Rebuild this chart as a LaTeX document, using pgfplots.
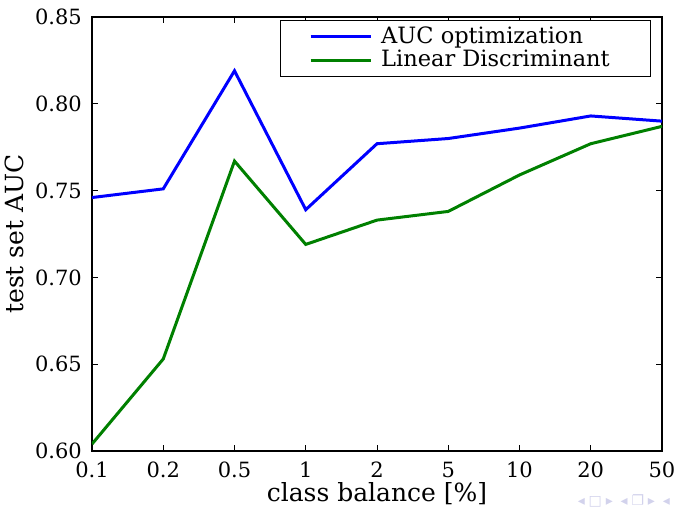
\documentclass[border=0pt]{standalone}
\usepackage{fontspec}
\setmainfont{DejaVu Serif}
\newfontfamily\navfont{DejaVu Sans}
\usepackage{pgfplots}
\pgfplotsset{compat=1.18}
\definecolor{mplblue}{RGB}{0,0,255}
\definecolor{mplgreen}{RGB}{0,128,0}
\definecolor{navcol}{RGB}{210,210,236}
\begin{document}
\begin{tikzpicture}
\fontsize{21bp}{25bp}\selectfont
\useasboundingbox (-92bp,-57bp) rectangle (587bp,451bp);
\begin{axis}[
  at={(0,0)}, anchor=south west,
  width=570bp, height=434bp, scale only axis,
  xmin=0, xmax=8, ymin=0.6, ymax=0.85,
  xtick={0,...,8},
  xticklabels={0.1,0.2,0.5,1,2,5,10,20,50},
  ytick={0.60,0.65,0.70,0.75,0.80,0.85},
  yticklabel style={/pgf/number format/fixed,/pgf/number format/fixed zerofill,/pgf/number format/precision=2},
  /pgf/number format/assume math mode=true,
  tick align=inside,
  major tick length=6bp,
  tick style={black, line width=0.7bp},
  axis line style={black, line width=1.2bp},
  ticklabel style={font=\fontsize{21bp}{25bp}\selectfont},
  xticklabel style={yshift=-4bp},
  yticklabel style={xshift=-3bp},
  xlabel={class balance [\%]},
  ylabel={test set AUC},
  xlabel style={font=\fontsize{25bp}{28bp}\selectfont, yshift=10bp},
  ylabel style={font=\fontsize{25bp}{28bp}\selectfont, yshift=-3bp},
  legend style={at={(rel axis cs:0.981,0.993)}, anchor=north east,
    font=\fontsize{22.5bp}{24bp}\selectfont, draw=black, line width=0.8bp,
    inner xsep=1bp, inner ysep=4bp, row sep=0bp,
    nodes={inner xsep=2bp}},
  legend cell align=left,
  legend image code/.code={\path (-28bp,0); \draw[#1,line width=3bp] (0bp,0) -- (60bp,0); \path (67bp,0);},
  every axis plot/.append style={line width=3bp},
]
\addplot[mplblue] coordinates {(0,0.746) (1,0.751) (2,0.819) (3,0.739) (4,0.777) (5,0.780) (6,0.786) (7,0.793) (8,0.790)};
\addlegendentry{AUC optimization}
\addplot[mplgreen] coordinates {(0,0.604) (1,0.653) (2,0.767) (3,0.719) (4,0.733) (5,0.738) (6,0.759) (7,0.777) (8,0.787)};
\addlegendentry{Linear Discriminant\rule{38bp}{0pt}}
\end{axis}
\node[navcol, font=\navfont\fontsize{14bp}{17bp}\selectfont, anchor=east] at (585bp,-50bp) {◂\;□\;▸\;\;◂\;❐\;▸\;\;◂};
\end{tikzpicture}
\end{document}
